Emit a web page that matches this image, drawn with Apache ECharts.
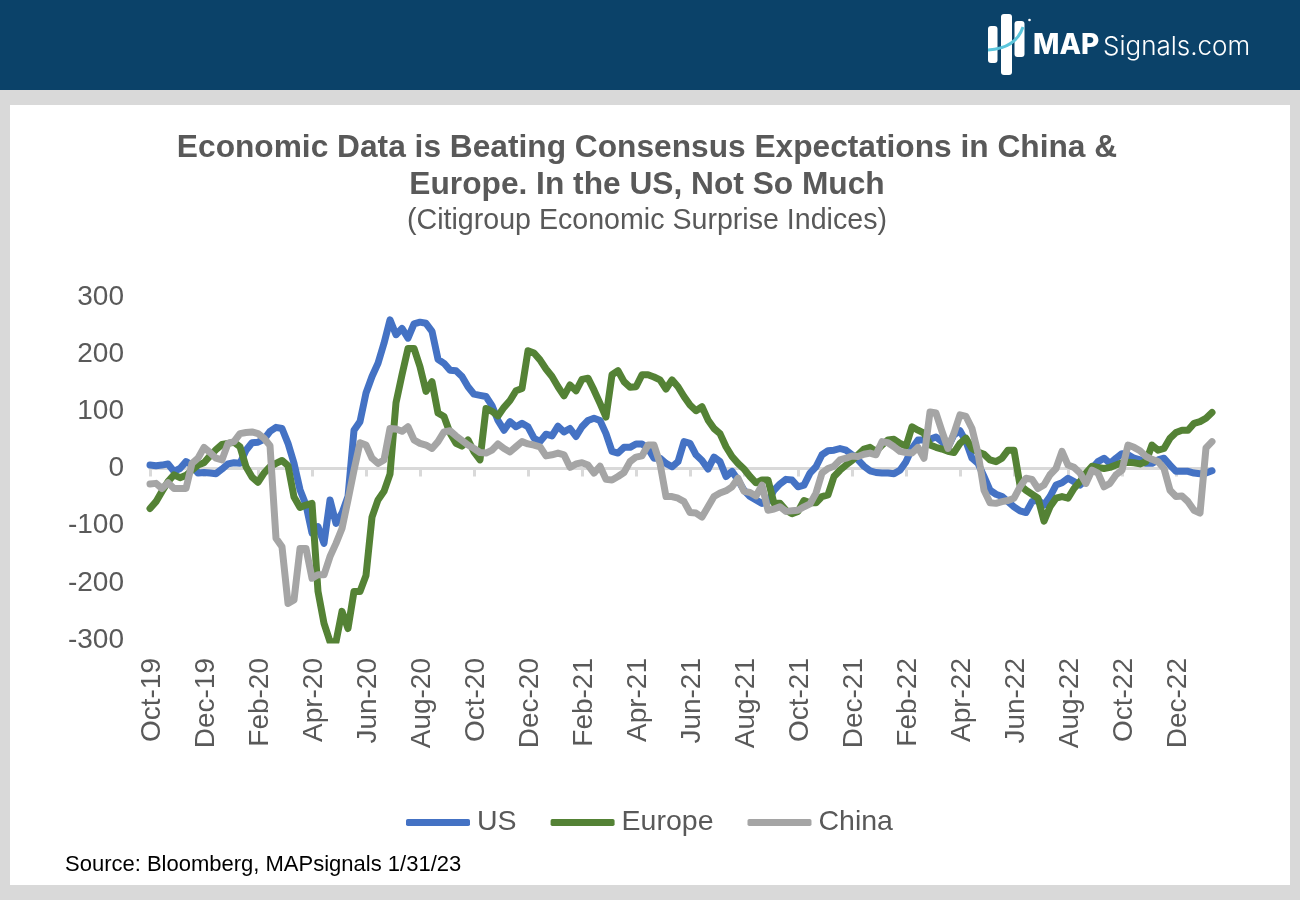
<!DOCTYPE html>
<html>
<head>
<meta charset="utf-8">
<style>html,body{margin:0;padding:0;background:#D9D9D9}#c{width:1300px;height:900px}</style>
<script src="https://cdn.jsdelivr.net/npm/echarts@6/dist/echarts.min.js"></script>
</head>
<body>
<div id="c"></div>
<script>
const tickLabels = ['Oct-19','Dec-19','Feb-20','Apr-20','Jun-20','Aug-20','Oct-20','Dec-20','Feb-21','Apr-21','Jun-21','Aug-21','Oct-21','Dec-21','Feb-22','Apr-22','Jun-22','Aug-22','Oct-22','Dec-22'];
const samplesPerTick = 9;
const yTicks = [-300,-200,-100,0,100,200,300];

const us = [
6,5,6,8,-5,0,12,6,-8,-7,
-8,-9,-1,8,10,9,32,45,46,51,
65,72,70,44,9,-37,-64,-113,-102,-131,
-55,-96,-78,-49,67,82,132,161,184,219,
260,234,245,228,253,256,254,240,191,184,
172,171,161,143,130,128,126,110,84,67,
82,73,79,73,53,47,60,57,74,64,
70,56,73,84,88,84,61,30,27,37,
37,43,43,35,18,18,9,3,12,47,
44,24,14,-1,20,12,-14,-5,-20,-38,
-49,-55,-61,-58,-38,-27,-19,-20,-32,-29,
-8,3,24,31,32,35,32,24,15,4,
-4,-7,-8,-8,-9,-3,12,35,50,50,
51,55,47,37,59,66,47,18,9,-14,
-38,-45,-49,-58,-67,-74,-77,-58,-55,-64,
-49,-29,-25,-17,-23,-29,-20,0,12,18,
9,18,26,24,18,15,9,9,15,18,
6,-5,-5,-5,-8,-9,-8,-4];

const europe = [
-70,-58,-40,-23,-11,-16,-12,-3,6,10,
22,33,42,44,46,38,3,-15,-24,-8,
3,9,14,5,-50,-68,-64,-61,-215,-271,
-303,-303,-250,-280,-215,-215,-187,-85,-55,-40,
-10,115,164,210,210,178,135,152,97,91,
62,44,39,50,29,15,105,100,92,107,
119,136,140,206,202,190,174,161,143,127,
146,136,156,158,137,114,90,164,171,152,
142,143,164,164,160,155,139,155,143,126,
111,101,108,85,70,61,38,21,9,-1,
-14,-25,-20,-20,-61,-61,-73,-79,-75,-56,
-60,-60,-49,-46,-14,-3,6,14,24,34,
37,30,41,50,51,44,39,73,67,62,
41,37,34,30,28,44,53,35,29,25,
15,12,18,32,32,-29,-38,-45,-52,-92,
-67,-52,-49,-52,-35,-23,-8,4,2,0,
2,6,10,11,10,8,12,41,32,35,
53,63,67,67,79,82,88,98];

const china = [
-27,-26,-35,-25,-35,-35,-35,9,18,37,
28,18,15,44,47,61,63,64,61,53,
40,-122,-137,-236,-230,-140,-140,-192,-186,-186,
-154,-131,-105,-55,-3,45,41,18,9,15,
70,69,65,73,50,44,41,35,47,64,
66,57,49,41,35,28,27,32,43,35,
29,38,47,43,41,38,22,24,27,24,
2,8,10,6,-8,4,-19,-20,-14,-7,
12,20,22,41,41,9,-49,-49,-52,-58,
-77,-78,-85,-67,-49,-43,-39,-32,-17,-40,
-42,-48,-29,-73,-71,-67,-75,-74,-73,-67,
-62,-43,-8,0,4,15,18,22,21,25,
27,24,47,45,38,30,28,27,37,18,
99,97,65,35,62,94,91,70,27,-38,
-60,-61,-58,-56,-52,-32,-17,-19,-35,-29,
-11,0,30,6,2,-8,-26,-3,-8,-32,
-26,-11,-3,41,37,31,21,16,12,0,
-38,-49,-48,-58,-73,-78,36,47];

const categories = us.map((_, i) => (i % samplesPerTick === 0 && tickLabels[i / samplesPerTick]) || '');
const grey = '#595959';
const fontF = '"Liberation Sans", Arial, sans-serif';

const chart = echarts.init(document.getElementById('c'), null, {renderer:'canvas'});
chart.setOption({
  animation:false,
  backgroundColor:'#D9D9D9',
  graphic:[
    {type:'rect',z:0,shape:{x:0,y:0,width:1300,height:90},style:{fill:'#0B4269'}},
    {type:'rect',z:0,shape:{x:10,y:105,width:1280,height:780},style:{fill:'#FFFFFF'}},
    {type:'rect',z:1,shape:{x:988,y:26,width:9.5,height:37,r:3},style:{fill:'#FFFFFF'}},
    {type:'rect',z:1,shape:{x:1001,y:14,width:11,height:61,r:3},style:{fill:'#FFFFFF'}},
    {type:'rect',z:1,shape:{x:1014.5,y:21,width:10,height:36,r:3},style:{fill:'#FFFFFF'}},
    {type:'bezierCurve',z:1,shape:{x1:988,y1:50,cpx1:1005,cpy1:49,cpx2:1018,cpy2:42,x2:1023,y2:27},style:{stroke:'#5CC6DC',lineWidth:3,fill:null}},
    {type:'circle',z:1,shape:{cx:1029.5,cy:20,r:1.3},style:{fill:'#FFFFFF'}},
    {type:'text',z:1,style:{x:1033,y:46,text:'MAP',fill:'#FFFFFF',font:'800 28px Inter, sans-serif',textVerticalAlign:'middle'}},
    {type:'text',z:1,style:{x:1103,y:47,text:'Signals.com',fill:'#FFFFFF',font:'300 26px Inter, sans-serif',textVerticalAlign:'middle'}},
    {type:'text',z:3,style:{x:65,y:865,text:'Source: Bloomberg, MAPsignals 1/31/23',fill:'#000000',font:'22px '+fontF,textVerticalAlign:'middle'}}
  ],
  title:[
    {text:'Economic Data is Beating Consensus Expectations in China &\nEurope. In the US, Not So Much',left:642,top:125,textAlign:'center',
     textStyle:{color:grey,fontFamily:fontF,fontWeight:'bold',fontSize:31.7,lineHeight:37}},
    {text:'(Citigroup Economic Surprise Indices)',left:642,top:202,textAlign:'center',
     textStyle:{color:grey,fontFamily:fontF,fontWeight:'normal',fontSize:28.6}}
  ],
  legend:{
    left:406,top:808,padding:0,itemWidth:64,itemHeight:7,itemGap:34,icon:'roundRect',
    textStyle:{color:grey,fontFamily:fontF,fontSize:28.5,padding:[0,0,0,2]},
    data:['US','Europe','China']
  },
  grid:[
    {left:150,right:88,top:297,bottom:260,containLabel:false},
    {left:152,right:86,top:297,bottom:260,containLabel:false}
  ],
  xAxis:[
    {type:'category',gridIndex:0,data:categories,boundaryGap:false,
     axisLine:{onZero:true,lineStyle:{color:'#D9D9D9',width:3}},
     axisTick:{show:true,interval:samplesPerTick-1,length:8,lineStyle:{color:'#D9D9D9',width:3}},
     axisLabel:{show:false},splitLine:{show:false}},
    {type:'category',gridIndex:1,data:categories,boundaryGap:false,position:'bottom',
     axisLine:{show:false,onZero:false},axisTick:{show:false},splitLine:{show:false},
     axisLabel:{show:true,interval:samplesPerTick-1,rotate:90,margin:18,color:grey,fontFamily:fontF,fontSize:28,hideOverlap:false}}
  ],
  yAxis:[
    {type:'value',gridIndex:0,min:yTicks[0],max:yTicks[yTicks.length-1],interval:100,
     axisLine:{show:false},axisTick:{show:false},splitLine:{show:false},
     axisLabel:{margin:26,padding:[4,0,0,0],color:grey,fontFamily:fontF,fontSize:28}},
    {type:'value',gridIndex:1,min:yTicks[0],max:yTicks[yTicks.length-1],interval:100,show:false}
  ],
  series:[
    {name:'US',type:'line',data:us,symbol:'none',smooth:false,lineStyle:{color:'#4472C4',width:7,cap:'round',join:'round'},itemStyle:{color:'#4472C4'}},
    {name:'Europe',type:'line',data:europe,symbol:'none',smooth:false,lineStyle:{color:'#548235',width:7,cap:'round',join:'round'},itemStyle:{color:'#548235'}},
    {name:'China',type:'line',data:china,symbol:'none',smooth:false,lineStyle:{color:'#A5A5A5',width:7,cap:'round',join:'round'},itemStyle:{color:'#A5A5A5'}}
  ]
});
</script>
</body>
</html>
